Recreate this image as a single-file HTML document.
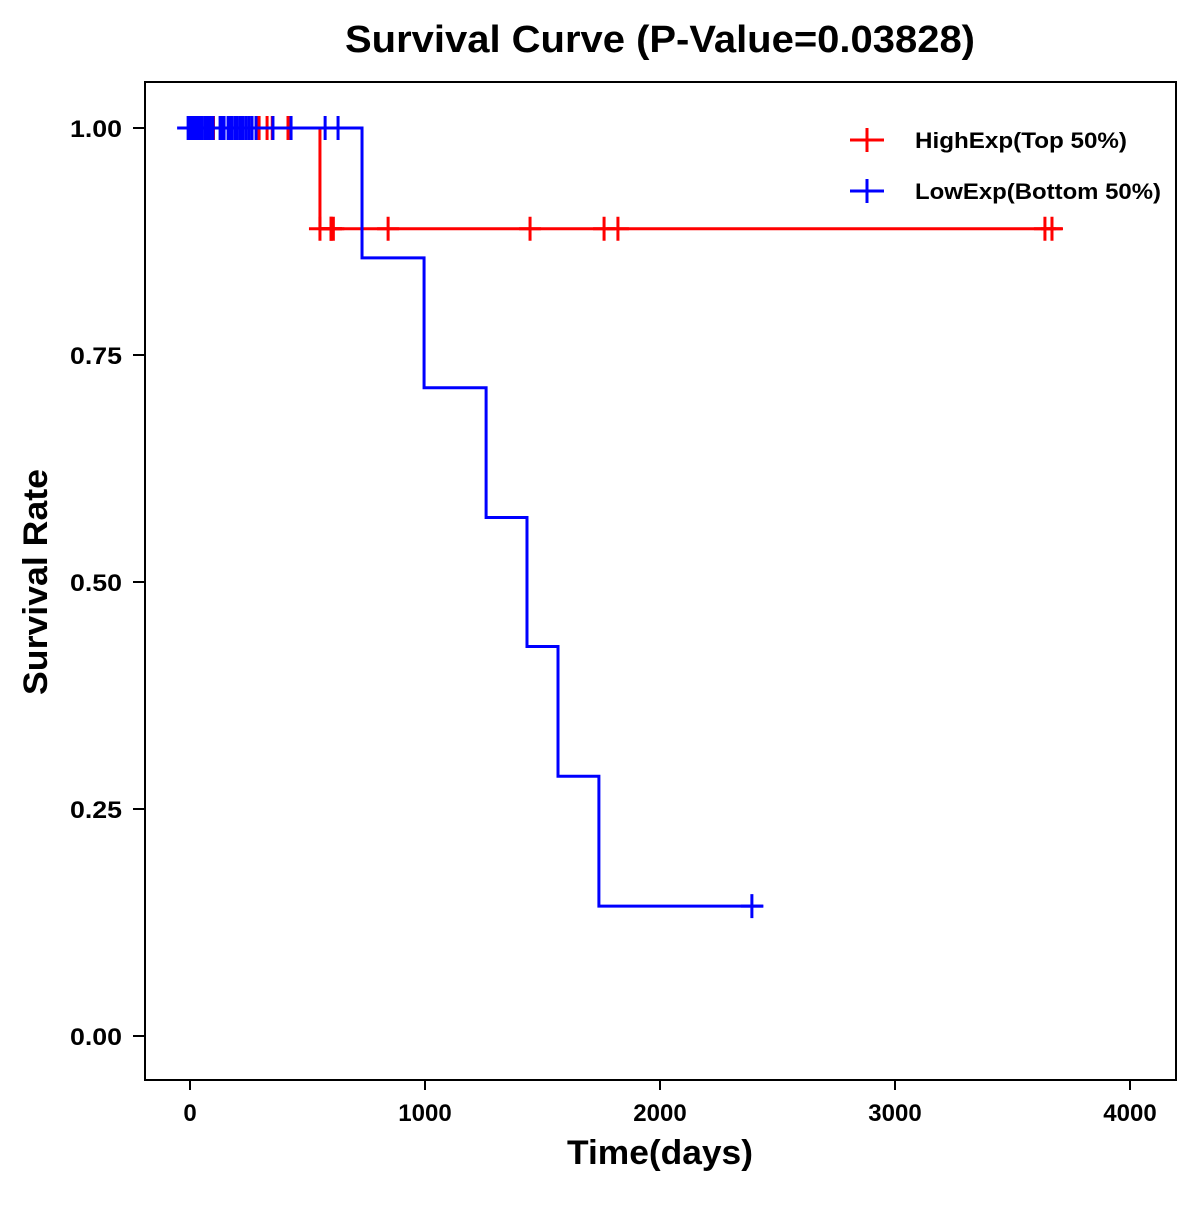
<!DOCTYPE html>
<html><head><meta charset="utf-8"><style>
body{margin:0;background:#fff}
text{font-family:"Liberation Sans",Arial,sans-serif;font-weight:bold;fill:#000}
</style></head><body>
<svg id="chart" width="1200" height="1200" viewBox="0 0 1200 1200" xmlns="http://www.w3.org/2000/svg">
<rect width="1200" height="1200" fill="#fff"/>
<text x="660" y="52" font-size="38" text-anchor="middle" textLength="630" lengthAdjust="spacingAndGlyphs">Survival Curve (P-Value=0.03828)</text>
<rect x="145" y="82" width="1031" height="998" fill="none" stroke="#000" stroke-width="2"/>
<g id="axes"></g>
<g id="series"></g>
<text x="660" y="1164" font-size="34" text-anchor="middle" textLength="186" lengthAdjust="spacingAndGlyphs">Time(days)</text>
<text transform="translate(47,582) rotate(-90)" font-size="34" text-anchor="middle" textLength="226" lengthAdjust="spacingAndGlyphs">Survival Rate</text>
<g>
<g>
<line x1="850" y1="140" x2="884" y2="140" stroke="#ff0000" stroke-width="3"/><line x1="867" y1="128" x2="867" y2="152" stroke="#ff0000" stroke-width="3"/>
<text x="915" y="148" font-size="22" textLength="212" lengthAdjust="spacingAndGlyphs">HighExp(Top 50%)</text></g>
<g>
<line x1="850" y1="191" x2="884" y2="191" stroke="#0000ff" stroke-width="3"/><line x1="867" y1="179" x2="867" y2="203" stroke="#0000ff" stroke-width="3"/>
<text x="915" y="199" font-size="22" textLength="246" lengthAdjust="spacingAndGlyphs">LowExp(Bottom 50%)</text></g>
</g>
</svg>
<script>
const xTicks=[0,1000,2000,3000,4000];
const yTicks=[0,0.25,0.5,0.75,1.0];
const yTickLabels=["0.00","0.25","0.50","0.75","1.00"];
// High group
const highStart=-40;
const highEventTimes=[553];
const highEventSurv=[0.889];
const highEnd=3710;
const highCensor=[100,96,290,294,328,350,418,417,553,600,610,600,843,1447,1762,1821,3638,3668];
// Low group
const lowStart=-40;
const lowEventTimes=[732,996,1260,1434,1566,1740];
const lowEventSurv=[0.857,0.714,0.571,0.429,0.286,0.143];
const lowEnd=2440;
const lowCensor=[-8,0,6,10,20,25,34,43,51,64,68,77,85,98,128,136,145,162,170,178,191,200,213,225,238,251,264,281,353,430,575,630,2391];

const X=v=>190+v*0.235, Y=v=>1036-v*908;
const NS="http://www.w3.org/2000/svg";
const ax=document.getElementById('axes'), se=document.getElementById('series');
function mk(tag,attrs,parent){const e=document.createElementNS(NS,tag);for(const k in attrs)e.setAttribute(k,attrs[k]);parent.appendChild(e);return e;}
xTicks.forEach(t=>{
 const l=mk('line',{x1:X(t),x2:X(t),y1:1080,y2:1090,stroke:'#000','stroke-width':2},ax);
 
 
 const tx=mk('text',{x:X(t),y:1121,'font-size':24,'text-anchor':'middle'},ax);tx.textContent=t;
 
 
});
yTicks.forEach((t,i)=>{
 const l=mk('line',{x1:133,x2:145,y1:Y(t),y2:Y(t),stroke:'#000','stroke-width':2},ax);
 
 
 const tx=mk('text',{x:122,y:Y(t)+9,'font-size':24,'text-anchor':'end',textLength:52,lengthAdjust:'spacingAndGlyphs'},ax);tx.textContent=yTickLabels[i];
 
 
});
function survAt(t,times,surv){let s=1;times.forEach((tt,i)=>{if(t>=tt)s=surv[i];});return s;}
function draw(start,times,surv,end,cens,color,name){
 let d='M'+X(start)+','+Y(1);
 times.forEach((t,i)=>{d+=' H'+X(t)+' V'+Y(surv[i]);});
 d+=' H'+X(end);
 const p=mk('path',{d:d,fill:'none',stroke:color,'stroke-width':3},se);
 
 
 cens.forEach(c=>{
  const y=Y(survAt(c,times,surv)),x=X(c);
  const g=mk('path',{d:`M${x},${y-12} V${y+12} M${x-11},${y} H${x+11}`,stroke:color,'stroke-width':3,fill:'none'},se);
  
  
 });
}
draw(highStart,highEventTimes,highEventSurv,highEnd,highCensor,'#ff0000','high-exp');
draw(lowStart,lowEventTimes,lowEventSurv,lowEnd,lowCensor,'#0000ff','low-exp');
</script>
</body></html>
